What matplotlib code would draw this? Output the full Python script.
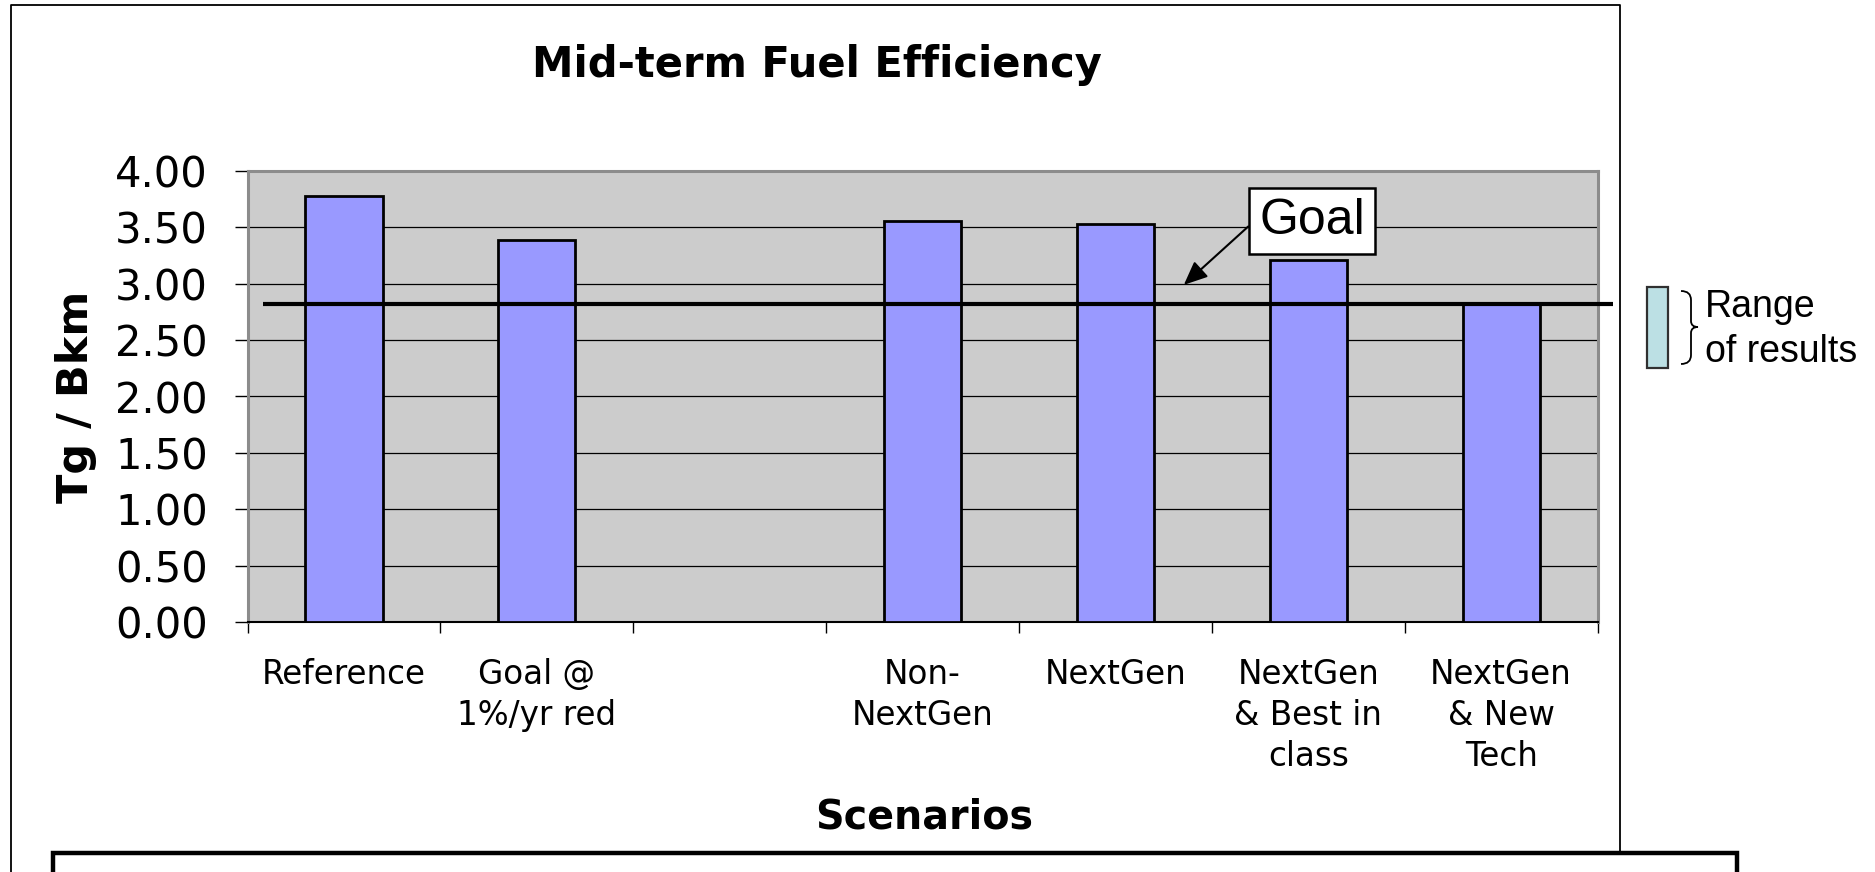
import numpy as np
import matplotlib
matplotlib.use("Agg")
import matplotlib.pyplot as plt
from matplotlib.lines import Line2D
from matplotlib.patches import Rectangle, PathPatch
from matplotlib.path import Path

# ---- data ----
scenarios = ["Reference", "Goal @\n1%/yr red", "", "Non-\nNextGen", "NextGen",
             "NextGen\n& Best in\nclass", "NextGen\n& New\nTech"]
values = [3.78, 3.39, np.nan, 3.56, 3.53, 3.21, 2.83]
goal_value = 2.82
yticks = [0.0, 0.5, 1.0, 1.5, 2.0, 2.5, 3.0, 3.5, 4.0]

W, H = 1875, 872
fig = plt.figure(figsize=(W / 100, H / 100), dpi=100)
fig.patch.set_facecolor("white")


def fx(x):
    return x / W


def fy(y):
    return 1 - y / H


# plot area
ax = fig.add_axes([fx(247.5), fy(622), fx(1597.5) - fx(247.5), fy(171) - fy(622)])
ax.set_facecolor("#CCCCCC")
x = np.arange(len(scenarios))
ax.bar(x, values, width=0.4, color="#9999FF", edgecolor="black", linewidth=2.0, zorder=3)
ax.set_xlim(-0.5, len(scenarios) - 0.5)
ax.set_ylim(0, 4)

# grid lines
for yv in yticks[1:]:
    ax.axhline(yv, color="black", linewidth=0.9, zorder=1)

# spines
for side in ("top", "left", "right"):
    ax.spines[side].set_color("#8C8C8C")
    ax.spines[side].set_linewidth(2.2)
ax.spines["bottom"].set_color("black")
ax.spines["bottom"].set_linewidth(1.5)

# y axis
ax.set_yticks(yticks)
ax.set_yticklabels([f"{v:.2f}" for v in yticks], fontsize=30, family="DejaVu Sans")
ax.tick_params(axis="y", direction="out", length=9.5, width=1.0, pad=19, color="black")

# x axis: labels at category centres, tick marks at boundaries
ax.set_xticks(x)
ax.set_xticklabels(scenarios, fontsize=23.5, family="DejaVu Sans", linespacing=1.3)
ax.tick_params(axis="x", which="major", length=0, pad=26)
ax.set_xticks(np.arange(-0.5, len(scenarios)), minor=True)
ax.tick_params(axis="x", which="minor", direction="out", length=8, width=1.0, color="black")

# goal line (extends past the right edge of the plot area)
ax.plot([-0.42, 6.58], [goal_value, goal_value], color="black", linewidth=3.0,
        zorder=4, clip_on=False, solid_capstyle="butt")

# goal callout
ax.annotate("Goal", xy=(4.355, 2.99), xytext=(5.02, 3.555), ha="center", va="center",
            fontsize=36, family="Liberation Sans", zorder=6,
            bbox=dict(boxstyle="square,pad=0.2", fc="white", ec="black", lw=1.8),
            arrowprops=dict(arrowstyle="-|>,head_length=0.8,head_width=0.35",
                            color="black", lw=1.5, mutation_scale=18,
                            relpos=(0.0, 0.6), shrinkA=0, shrinkB=0))

# titles
fig.text(fx(817), fy(65), "Mid-term Fuel Efficiency", fontsize=30, fontweight="bold",
         family="DejaVu Sans", ha="center", va="center")
fig.text(fx(924), fy(828), "Scenarios", fontsize=28.5, fontweight="bold",
         family="DejaVu Sans", ha="center", va="baseline")
fig.text(fx(76), fy(397), "Tg / Bkm", fontsize=31, fontweight="bold",
         family="DejaVu Sans", ha="center", va="center", rotation=90)

# range-of-results key
fig.add_artist(Rectangle((fx(1647), fy(368)), fx(1668) - fx(1647), fy(287) - fy(368),
                         transform=fig.transFigure, facecolor="#BCE0E4",
                         edgecolor="#303030", linewidth=1.6))
brace_pts = [(1681, 291), (1691, 291), (1691, 300), (1691, 321), (1691, 327),
             (1698, 327), (1691, 327), (1691, 333), (1691, 355), (1691, 364), (1681, 364)]
brace_codes = [Path.MOVETO, Path.CURVE3, Path.CURVE3, Path.LINETO, Path.CURVE3,
               Path.CURVE3, Path.CURVE3, Path.CURVE3, Path.LINETO, Path.CURVE3, Path.CURVE3]
brace = Path([(fx(px), fy(py)) for px, py in brace_pts], brace_codes)
fig.add_artist(PathPatch(brace, transform=fig.transFigure, facecolor="none",
                         edgecolor="black", linewidth=1.3))
fig.text(fx(1705), fy(317), "Range", fontsize=27, family="Liberation Sans", va="baseline")
fig.text(fx(1705), fy(362), "of results", fontsize=27, family="Liberation Sans", va="baseline")

# outer chart frame
fig.add_artist(Line2D([fx(11), fx(11), fx(1620), fx(1620)], [fy(872), fy(5), fy(5), fy(853)],
                      transform=fig.transFigure, color="black", linewidth=1.3))

# text box below the chart
fig.add_artist(Line2D([fx(53), fx(53), fx(1737), fx(1737)], [fy(880), fy(853), fy(853), fy(880)],
                      transform=fig.transFigure, color="black", linewidth=3.2,
                      solid_joinstyle="miter"))

fig.savefig("out.png", dpi=100, facecolor="white")
